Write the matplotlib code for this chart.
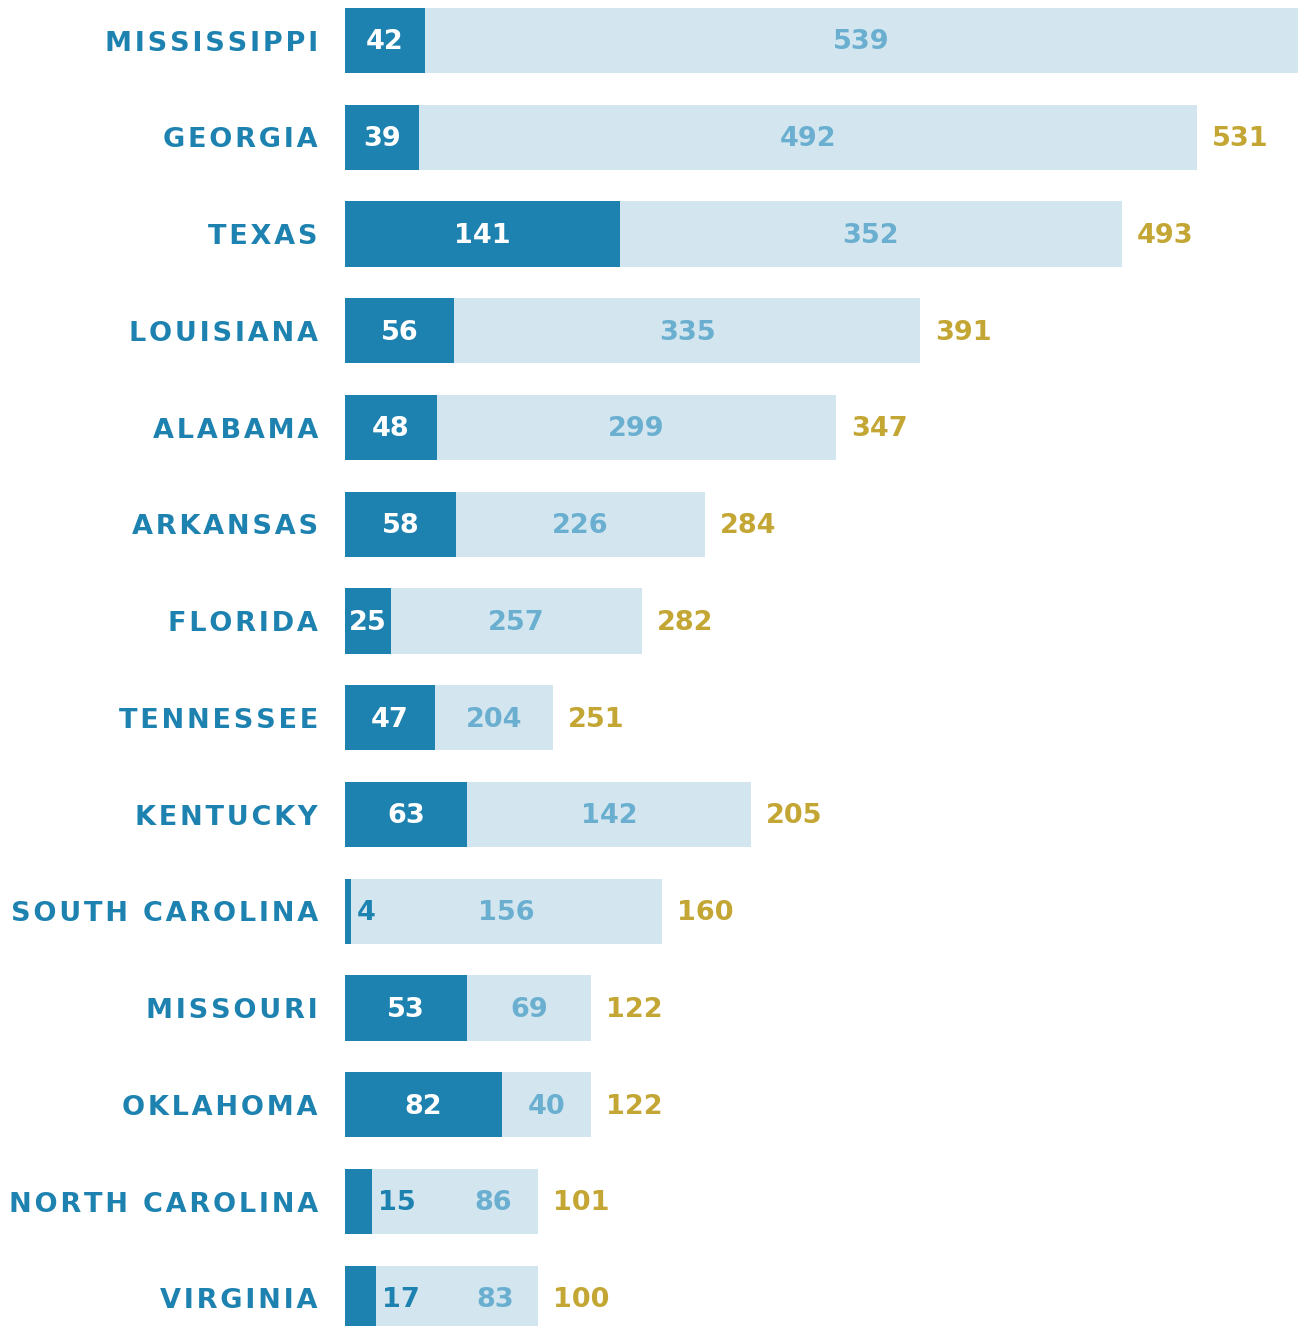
import numpy as np
import matplotlib.pyplot as plt

states = ['MISSISSIPPI', 'GEORGIA', 'TEXAS', 'LOUISIANA', 'ALABAMA', 'ARKANSAS',
          'FLORIDA', 'TENNESSEE', 'KENTUCKY', 'SOUTH CAROLINA', 'MISSOURI',
          'OKLAHOMA', 'NORTH CAROLINA', 'VIRGINIA']
dark_vals = [42, 39, 141, 56, 48, 58, 25, 47, 63, 4, 53, 82, 15, 17]
light_vals = [539, 492, 352, 335, 299, 226, 257, 204, 142, 156, 69, 40, 86, 83]
totals = [581, 531, 493, 391, 347, 284, 282, 251, 205, 160, 122, 122, 101, 100]

# segment lengths as drawn in the original graphic (it is not to scale)
dark_len = [41.0, 37.9, 141.0, 55.9, 47.2, 56.9, 23.6, 46.2, 62.6, 3.1, 62.6, 80.5, 13.8, 15.9]
light_len = [447.7, 399.0, 257.4, 239.0, 204.6, 127.7, 128.7, 60.5, 145.6, 159.5, 63.6, 45.6, 85.1, 83.1]

DARK = '#1d82b0'
LIGHT = '#d3e6ef'
LIGHT_TXT = '#6aafd0'
GOLD = '#c3a633'

W, H = 1298, 1326
px = 1.95  # pixels per unit
xmax = 953 / px
fig = plt.figure(figsize=(W / 100, H / 100), dpi=100)
ax = fig.add_axes([345 / W, 0, 953 / W, 1])

y = np.arange(len(states))
ax.barh(y, dark_len, height=0.672, color=DARK)
ax.barh(y, light_len, left=dark_len, height=0.672, color=LIGHT)

fs = 19.5
dy = 0.02  # numbers sit a touch low in the original
for i in range(len(states)):
    d, l = dark_len[i], light_len[i]
    yi = i + dy
    shift = 0
    if d < 20:
        ax.text(d + 6 / px, yi, str(dark_vals[i]), color=DARK, fontsize=fs,
                fontweight='bold', ha='left', va='center')
        if l < 100:
            shift = 38 / px
    else:
        ax.text(d / 2, yi, str(dark_vals[i]), color='white', fontsize=fs,
                fontweight='bold', ha='center', va='center')
    ax.text(d + l / 2 + shift, yi, str(light_vals[i]), color=LIGHT_TXT, fontsize=fs,
            fontweight='bold', ha='center', va='center')
    # the top bar runs off the page, so its total is not shown
    if d + l < xmax - 1:
        ax.text(d + l + 15 / px, yi, str(totals[i]), color=GOLD, fontsize=fs,
                fontweight='bold', ha='left', va='center')

ax.set_xlim(0, xmax)
ax.set_ylim((H - 40.5) / 96.75, -40.5 / 96.75)
ax.set_yticks(y)
# widen the labels a little with hair spaces (letter-spaced caps in the original)
ax.set_yticklabels(['\u200a'.join(s) for s in states], fontsize=fs,
                   fontweight='bold', color=DARK)
ax.tick_params(axis='y', length=0, pad=19.5)
ax.set_xticks([])
for s in ax.spines.values():
    s.set_visible(False)

plt.savefig('out.png', dpi=100, facecolor='white')
